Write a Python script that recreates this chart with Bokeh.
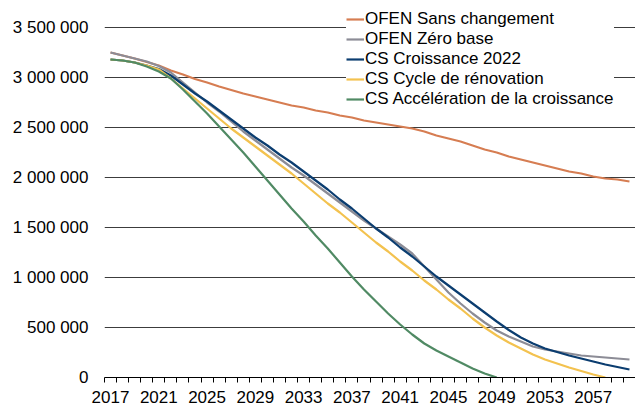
from bokeh.plotting import figure
from bokeh.models import Range1d, FixedTicker, Legend, LegendItem
from bokeh.embed import file_html
from bokeh.resources import INLINE

years = list(range(2017, 2061))

ofen_sans = [3.25, 3.22, 3.19, 3.155, 3.12, 3.07, 3.03, 2.985, 2.95, 2.91,
             2.875, 2.84, 2.81, 2.78, 2.75, 2.72, 2.70, 2.67, 2.65, 2.62,
             2.60, 2.57, 2.55, 2.53, 2.51, 2.49, 2.46, 2.42, 2.39, 2.36,
             2.32, 2.28, 2.25, 2.21, 2.18, 2.15, 2.12, 2.09, 2.06, 2.04,
             2.01, 1.99, 1.98, 1.96]
ofen_zero = [3.25, 3.22, 3.19, 3.16, 3.115, 3.05, 2.95, 2.85, 2.75, 2.66,
             2.56, 2.46, 2.37, 2.28, 2.19, 2.10, 2.02, 1.93, 1.84, 1.75,
             1.66, 1.57, 1.49, 1.41, 1.33, 1.24, 1.11, 0.98, 0.85, 0.74,
             0.64, 0.55, 0.47, 0.41, 0.36, 0.31, 0.28, 0.26, 0.24, 0.22,
             0.21, 0.20, 0.19, 0.18]
cs_2022 = [3.18, 3.17, 3.15, 3.12, 3.085, 3.02, 2.93, 2.84, 2.76, 2.67,
           2.58, 2.49, 2.40, 2.32, 2.23, 2.15, 2.06, 1.97, 1.88, 1.78,
           1.69, 1.59, 1.49, 1.40, 1.30, 1.21, 1.11, 1.01, 0.92, 0.83,
           0.74, 0.65, 0.56, 0.475, 0.40, 0.34, 0.29, 0.255, 0.22, 0.19,
           0.16, 0.13, 0.105, 0.08]
cs_cycle = [3.18, 3.17, 3.15, 3.12, 3.08, 2.99, 2.89, 2.79, 2.69, 2.59,
            2.49, 2.40, 2.31, 2.22, 2.13, 2.04, 1.94, 1.84, 1.74, 1.65,
            1.55, 1.45, 1.35, 1.26, 1.16, 1.07, 0.97, 0.88, 0.78, 0.69,
            0.59, 0.50, 0.42, 0.35, 0.29, 0.23, 0.18, 0.14, 0.10, 0.065,
            0.03, 0.0]
cs_accel = [3.18, 3.17, 3.15, 3.11, 3.06, 2.99, 2.88, 2.76, 2.64, 2.51,
            2.38, 2.25, 2.11, 1.97, 1.83, 1.69, 1.56, 1.42, 1.29, 1.15,
            1.01, 0.88, 0.76, 0.64, 0.53, 0.43, 0.34, 0.27, 0.21, 0.15,
            0.09, 0.04, 0.0]

series_names = ["OFEN Sans changement", "OFEN Zéro base", "CS Croissance 2022",
                "CS Cycle de rénovation", "CS Accélération de la croissance"]
series_values = [ofen_sans, ofen_zero, cs_2022, cs_cycle, cs_accel]
series_colors = ["#D67D52", "#8C8C96", "#0B3D70", "#F3C24F", "#508A64"]

y_ticks = list(range(0, 3500001, 500000))
x_label_years = years[:-3:4]

FONT = "Liberation Sans"
FS = "17px"

# frame spans the full height above the x axis; top headroom keeps the
# highest gridline ~27px below the top edge (350px per 3.5M)
frame_h = 377
y_end = y_ticks[-1] * frame_h / (frame_h - 27)

p = figure(width=635, height=405, output_backend="svg", toolbar_location=None,
           x_range=Range1d(years[0] - 0.5, years[-1] + 0.5),
           y_range=Range1d(y_ticks[0], y_end),
           min_border_left=104, min_border_right=0, min_border_top=0,
           min_border_bottom=28)
p.outline_line_color = None
p.background_fill_color = "white"
p.border_fill_color = "white"

# x axis
p.xaxis.ticker = FixedTicker(ticks=x_label_years,
                             minor_ticks=[y - 0.5 for y in years] + [years[-1] + 0.5])
p.xaxis.major_label_overrides = {y: str(y) for y in x_label_years}
p.xaxis.major_tick_out = 0
p.xaxis.major_tick_in = 0
p.xaxis.minor_tick_out = 5
p.xaxis.minor_tick_in = 0
p.xaxis.minor_tick_line_color = "black"
p.xaxis.axis_line_color = "black"
p.xaxis.major_label_standoff = 8
p.xaxis.major_label_text_font = FONT
p.xaxis.major_label_text_font_size = FS
p.xaxis.major_label_text_color = "black"

# y axis
p.yaxis.ticker = FixedTicker(ticks=y_ticks)
p.yaxis.major_label_overrides = {v: f"{v:,}".replace(",", " ") for v in y_ticks}
p.yaxis.axis_line_color = None
p.yaxis.major_tick_line_color = None
p.yaxis.major_tick_out = 0
p.yaxis.major_tick_in = 0
p.yaxis.minor_tick_line_color = None
p.yaxis.major_label_standoff = 16
p.yaxis.major_label_text_font = FONT
p.yaxis.major_label_text_font_size = FS
p.yaxis.major_label_text_color = "black"

p.xgrid.visible = False
p.ygrid.ticker = FixedTicker(ticks=y_ticks)
p.ygrid.grid_line_color = "#3c3c3c"
p.ygrid.grid_line_width = 1

items = []
for name, vals, col in zip(series_names, series_values, series_colors):
    r = p.line(years[:len(vals)], [v * 1e6 for v in vals], line_color=col,
               line_width=2.2)
    items.append(LegendItem(label=name, renderers=[r]))

legend = Legend(items=items, location=(242, 268), orientation="vertical",
                label_text_font=FONT, label_text_font_size=FS,
                label_text_color="black", glyph_width=18, glyph_height=18,
                label_standoff=1, label_height=18, spacing=-2, padding=4,
                margin=0, border_line_color=None,
                background_fill_color="white", background_fill_alpha=1.0)
p.add_layout(legend, "center")

open("out.html", "w").write(file_html(p, INLINE))
